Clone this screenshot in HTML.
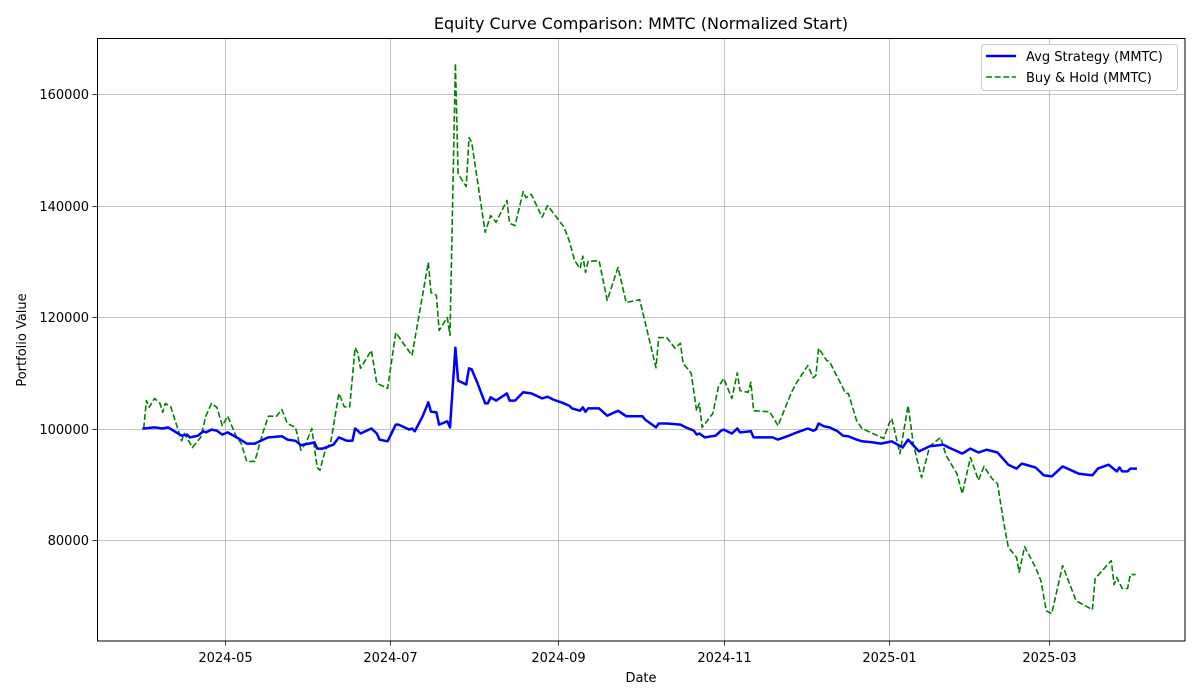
<!DOCTYPE html>
<html><head><meta charset="utf-8">
<style>
html,body{margin:0;padding:0;background:#fff;}
svg{display:block;font-family:"DejaVu Sans","Liberation Sans",sans-serif;}
</style></head>
<body>
<svg id="chart" width="1200" height="700" viewBox="0 0 1200 700" xmlns="http://www.w3.org/2000/svg">
<rect width="1200" height="700" fill="#fff"/>
<text x="641" y="29" font-size="16" text-anchor="middle">Equity Curve Comparison: MMTC (Normalized Start)</text>
<g id="grid"></g>
<g id="series"></g>
<rect x="97.5" y="38.5" width="1087.5" height="602.5" fill="none" stroke="#000" stroke-width="1"/>
<g id="axes"></g>
<text x="641" y="682" font-size="13" text-anchor="middle">Date</text>
<text transform="translate(26,340) rotate(-90)" font-size="13" text-anchor="middle">Portfolio Value</text>
<g>
<rect x="981.5" y="44.5" width="196" height="46" rx="3" fill="#fff" fill-opacity="0.8" stroke="#ccc"/>
<line x1="986" y1="56" x2="1016" y2="56" stroke="#0000ff" stroke-width="2.5"/>
<text x="1026" y="61" font-size="13">Avg Strategy (MMTC)</text>
<line x1="986" y1="77" x2="1016" y2="77" stroke="#008000" stroke-width="1.6" stroke-dasharray="6,2.6"/>
<text x="1026" y="82" font-size="13">Buy &amp; Hold (MMTC)</text>
</g>
</svg>
<script>
const avgDates=["2024-04-01","2024-04-05","2024-04-08","2024-04-10","2024-04-15","2024-04-17","2024-04-18","2024-04-21","2024-04-23","2024-04-24","2024-04-26","2024-04-28","2024-04-30","2024-05-02","2024-05-06","2024-05-09","2024-05-12","2024-05-15","2024-05-17","2024-05-22","2024-05-24","2024-05-27","2024-05-29","2024-06-01","2024-06-03","2024-06-04","2024-06-06","2024-06-10","2024-06-12","2024-06-15","2024-06-17","2024-06-18","2024-06-19","2024-06-20","2024-06-24","2024-06-26","2024-06-27","2024-06-30","2024-07-03","2024-07-04","2024-07-08","2024-07-09","2024-07-10","2024-07-13","2024-07-15","2024-07-16","2024-07-18","2024-07-19","2024-07-22","2024-07-23","2024-07-25","2024-07-26","2024-07-29","2024-07-30","2024-07-31","2024-08-02","2024-08-05","2024-08-06","2024-08-07","2024-08-09","2024-08-13","2024-08-14","2024-08-16","2024-08-19","2024-08-22","2024-08-26","2024-08-28","2024-08-30","2024-09-02","2024-09-05","2024-09-06","2024-09-09","2024-09-10","2024-09-11","2024-09-12","2024-09-16","2024-09-19","2024-09-23","2024-09-26","2024-10-02","2024-10-03","2024-10-07","2024-10-08","2024-10-11","2024-10-16","2024-10-18","2024-10-21","2024-10-22","2024-10-23","2024-10-25","2024-10-29","2024-10-31","2024-11-01","2024-11-04","2024-11-06","2024-11-07","2024-11-11","2024-11-12","2024-11-19","2024-11-21","2024-11-25","2024-11-28","2024-12-02","2024-12-04","2024-12-05","2024-12-06","2024-12-08","2024-12-10","2024-12-13","2024-12-15","2024-12-17","2024-12-20","2024-12-22","2024-12-26","2024-12-29","2025-01-02","2025-01-06","2025-01-08","2025-01-12","2025-01-16","2025-01-21","2025-01-23","2025-01-28","2025-01-31","2025-02-03","2025-02-06","2025-02-10","2025-02-12","2025-02-14","2025-02-17","2025-02-19","2025-02-24","2025-02-26","2025-02-27","2025-03-02","2025-03-06","2025-03-12","2025-03-17","2025-03-19","2025-03-23","2025-03-26","2025-03-27","2025-03-28","2025-03-30","2025-03-31","2025-04-02"];
const avgValues=[100.0,100.2,100.0,100.2,98.7,98.9,98.4,98.7,99.5,99.3,99.8,99.6,98.9,99.3,98.2,97.3,97.3,98.0,98.4,98.6,98.0,97.8,97.0,97.3,97.5,96.4,96.4,97.1,98.4,97.8,97.8,100.0,99.6,99.1,100.0,99.1,98.0,97.7,100.7,100.7,99.8,100.0,99.5,102.3,104.7,103.0,102.9,100.7,101.3,100.2,114.5,108.6,107.9,110.8,110.6,108.3,104.5,104.5,105.6,105.0,106.3,105.0,105.0,106.5,106.3,105.4,105.7,105.2,104.7,104.1,103.6,103.2,103.8,103.0,103.6,103.6,102.3,103.2,102.2,102.2,101.6,100.2,100.9,100.9,100.7,100.2,99.6,98.9,99.1,98.4,98.7,99.6,99.8,99.1,100.0,99.3,99.5,98.4,98.4,98.0,98.7,99.3,100.0,99.6,99.8,100.9,100.4,100.2,99.5,98.7,98.6,98.0,97.7,97.5,97.3,97.7,96.6,98.0,95.9,96.8,97.1,96.6,95.5,96.4,95.7,96.2,95.7,94.6,93.5,92.8,93.7,93.0,92.1,91.6,91.4,93.2,91.9,91.6,92.8,93.5,92.3,93.0,92.3,92.3,92.8,92.8];
const bhDates=["2024-04-01","2024-04-02","2024-04-03","2024-04-05","2024-04-07","2024-04-08","2024-04-09","2024-04-11","2024-04-15","2024-04-16","2024-04-19","2024-04-22","2024-04-24","2024-04-26","2024-04-28","2024-04-30","2024-05-02","2024-05-05","2024-05-07","2024-05-09","2024-05-12","2024-05-15","2024-05-17","2024-05-20","2024-05-22","2024-05-24","2024-05-27","2024-05-29","2024-05-31","2024-06-02","2024-06-04","2024-06-05","2024-06-07","2024-06-09","2024-06-12","2024-06-14","2024-06-16","2024-06-18","2024-06-19","2024-06-20","2024-06-24","2024-06-26","2024-06-30","2024-07-03","2024-07-09","2024-07-15","2024-07-16","2024-07-18","2024-07-19","2024-07-22","2024-07-23","2024-07-25","2024-07-26","2024-07-29","2024-07-30","2024-07-31","2024-08-05","2024-08-07","2024-08-09","2024-08-13","2024-08-14","2024-08-16","2024-08-19","2024-08-20","2024-08-22","2024-08-26","2024-08-28","2024-09-02","2024-09-03","2024-09-05","2024-09-07","2024-09-09","2024-09-10","2024-09-11","2024-09-12","2024-09-16","2024-09-19","2024-09-23","2024-09-26","2024-10-01","2024-10-04","2024-10-07","2024-10-08","2024-10-11","2024-10-14","2024-10-16","2024-10-17","2024-10-20","2024-10-22","2024-10-23","2024-10-24","2024-10-28","2024-10-30","2024-11-01","2024-11-04","2024-11-06","2024-11-07","2024-11-10","2024-11-11","2024-11-12","2024-11-18","2024-11-21","2024-11-26","2024-11-28","2024-12-02","2024-12-04","2024-12-05","2024-12-06","2024-12-09","2024-12-10","2024-12-16","2024-12-17","2024-12-20","2024-12-22","2024-12-26","2024-12-30","2025-01-01","2025-01-02","2025-01-05","2025-01-08","2025-01-10","2025-01-13","2025-01-16","2025-01-20","2025-01-22","2025-01-26","2025-01-28","2025-01-31","2025-02-03","2025-02-05","2025-02-08","2025-02-10","2025-02-12","2025-02-14","2025-02-17","2025-02-18","2025-02-20","2025-02-24","2025-02-26","2025-02-28","2025-03-02","2025-03-06","2025-03-11","2025-03-17","2025-03-18","2025-03-24","2025-03-25","2025-03-26","2025-03-28","2025-03-30","2025-03-31","2025-04-02"];
const bhValues=[100.0,105.0,103.8,105.4,104.5,102.9,104.5,103.9,97.8,99.1,96.6,98.4,102.3,104.5,103.8,100.5,102.2,98.7,97.3,94.1,94.1,99.3,102.2,102.2,103.4,100.9,100.2,96.1,97.5,100.0,93.0,92.5,96.1,97.5,106.3,103.9,103.9,114.5,113.6,110.8,114.0,108.1,107.2,117.2,113.1,129.8,124.4,123.9,117.6,119.9,116.7,165.5,145.7,143.4,152.2,151.3,135.2,138.2,137.0,140.9,136.8,136.4,142.5,141.4,142.0,137.9,140.0,136.8,136.2,133.7,130.1,128.7,130.9,128.0,130.0,130.1,123.0,128.9,122.6,123.1,117.0,110.9,116.3,116.3,114.4,115.3,111.7,109.9,103.2,104.5,100.2,102.7,107.4,109.0,105.4,110.0,106.8,106.5,108.3,103.2,103.0,100.5,106.5,108.3,111.3,109.1,109.5,114.4,112.2,112.0,106.3,106.3,101.4,100.0,99.1,98.2,100.9,101.8,95.5,104.1,97.0,91.2,96.8,98.4,95.2,91.9,88.3,94.8,90.7,93.2,91.0,90.1,84.0,78.7,76.9,74.2,78.8,75.1,72.7,67.3,66.8,75.4,69.1,67.5,73.1,76.3,72.0,73.3,71.3,71.3,73.8,73.8];
const xTickDates=["2024-05-01","2024-07-01","2024-09-01","2024-11-01","2025-01-01","2025-03-01"];
const xTickLabels=["2024-05","2024-07","2024-09","2024-11","2025-01","2025-03"];
const yTickValues=[80000,100000,120000,140000,160000];
const yTickLabels=["80000","100000","120000","140000","160000"];

const NS="http://www.w3.org/2000/svg";
const T0=Date.UTC(2024,3,1);
function dayOf(s){const p=s.split("-");return (Date.UTC(+p[0],+p[1]-1,+p[2])-T0)/86400000;}
function xScale(s){return 143.7+dayOf(s)*2.7105;}
function yScale(v){return 540+(80000-v)*(446/80000);}
function mk(tag,attrs,parent){const e=document.createElementNS(NS,tag);for(const k in attrs)e.setAttribute(k,attrs[k]);parent.appendChild(e);return e;}

const grid=document.getElementById("grid"),axes=document.getElementById("axes"),series=document.getElementById("series");
xTickDates.forEach((d,i)=>{
  const x=Math.round(xScale(d))+0.5;
  const g=mk("line",{x1:x,y1:38,x2:x,y2:641,stroke:"#b0b0b0","stroke-width":0.8},grid);
  
  
  const t=mk("line",{x1:x,y1:641,x2:x,y2:645.5,stroke:"#000","stroke-width":0.8},axes);
  
  
  const l=mk("text",{x:x,y:662,"font-size":13,"text-anchor":"middle"},axes);
  l.textContent=xTickLabels[i];
  
  
});
yTickValues.forEach((v,i)=>{
  const y=Math.round(yScale(v))+0.5;
  const g=mk("line",{x1:97,y1:y,x2:1185,y2:y,stroke:"#b0b0b0","stroke-width":0.8},grid);
  
  
  const t=mk("line",{x1:92.5,y1:y,x2:97,y2:y,stroke:"#000","stroke-width":0.8},axes);
  
  
  const l=mk("text",{x:89,y:y+4.5,"font-size":13,"text-anchor":"end"},axes);
  l.textContent=yTickLabels[i];
  
  
});
function pathOf(dates,vals){return dates.map((d,i)=>(i?"L":"M")+xScale(d).toFixed(1)+","+yScale(vals[i]*1000).toFixed(1)).join("");}
const bh=mk("path",{d:pathOf(bhDates,bhValues),fill:"none",stroke:"#008000","stroke-width":1.6,"stroke-dasharray":"6,2.6","stroke-linejoin":"round"},series);


const avg=mk("path",{d:pathOf(avgDates,avgValues),fill:"none",stroke:"#0000ff","stroke-width":2.5,"stroke-linejoin":"round","stroke-linecap":"square"},series);


</script>
</body></html>
